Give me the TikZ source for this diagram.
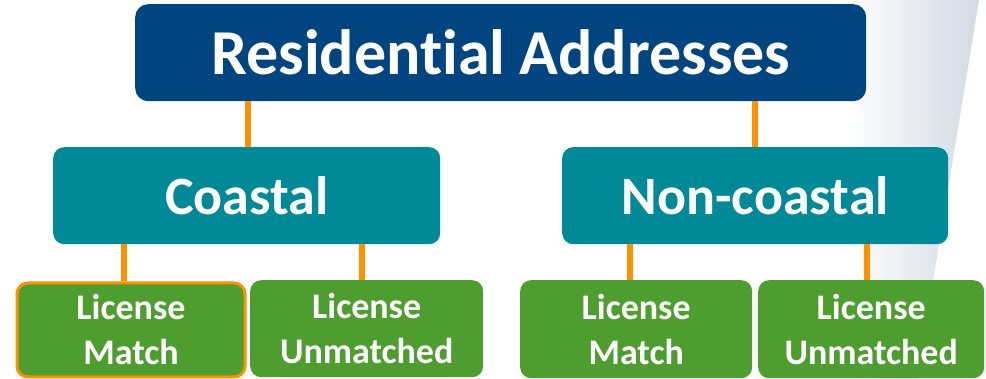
\documentclass[tikz,border=0pt]{standalone}
\usepackage{fontspec}
\setmainfont[RawFeature=-liga]{Carlito}
\definecolor{topblue}{RGB}{0,68,128}
\definecolor{midteal}{RGB}{0,137,150}
\definecolor{leafgreen}{RGB}{78,157,47}
\definecolor{linkorange}{RGB}{255,145,0}
\definecolor{panelgray}{RGB}{210,218,228}
\begin{document}
\begin{tikzpicture}[x=1pt,y=-1pt,
  boxbase/.style={rounded corners=11pt, text=white, align=center, inner sep=0pt, anchor=north west},
  topbox/.style={boxbase, fill=topblue, rounded corners=13pt, font=\fontsize{64}{70}\selectfont\bfseries},
  midbox/.style={boxbase, fill=midteal, font=\fontsize{54}{60}\selectfont\bfseries},
  leafbox/.style={boxbase, fill=leafgreen, font=\fontsize{36}{45}\selectfont\bfseries},
  link/.style={draw=linkorange, line width=6pt}]
\useasboundingbox (0,0) rectangle (986,379);
% soft panel behind the right side
\shade[left color=white, right color=panelgray] (845,0) -- (979,0) -- (917,379) -- (845,379) -- cycle;
% boxes
\node[topbox, minimum width=731pt, minimum height=97pt] (res) at (135,4) {Residential Addresses};
\node[midbox, minimum width=387pt, minimum height=97pt] (coast) at (53,147) {Coastal};
\node[midbox, minimum width=386pt, minimum height=97pt] (noncoast) at (562,147) {Non-coastal};
\node[leafbox, minimum width=228pt, minimum height=94pt, draw=linkorange, line width=3pt] (cm) at (15.5,281.5) {License\\Match};
\node[leafbox, minimum width=233pt, minimum height=97pt] (cu) at (250,280) {License\\Unmatched};
\node[leafbox, minimum width=232pt, minimum height=98pt] (nm) at (520,280) {License\\Match};
\node[leafbox, minimum width=226pt, minimum height=98pt] (nu) at (758,280) {License\\Unmatched};
% connectors
\draw[link] (res.south west -| 248,0) -- (coast.north west -| 248,0);
\draw[link] (res.south west -| 755,0) -- (noncoast.north west -| 755,0);
\draw[link] (coast.south west -| 124,0) -- (cm.north west -| 124,0);
\draw[link] (coast.south west -| 362,0) -- (cu.north west -| 362,0);
\draw[link] (noncoast.south west -| 630,0) -- (nm.north west -| 630,0);
\draw[link] (noncoast.south west -| 867,0) -- (nu.north west -| 867,0);
\end{tikzpicture}
\end{document}
